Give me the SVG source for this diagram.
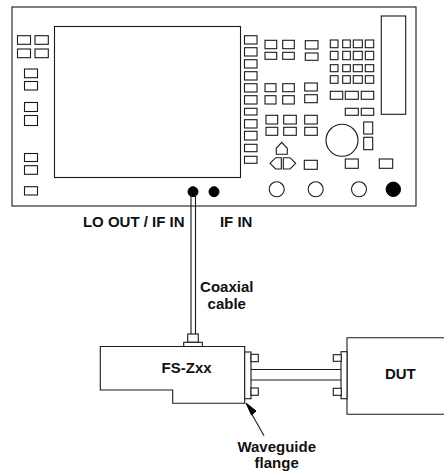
<svg xmlns="http://www.w3.org/2000/svg" width="444" height="471" viewBox="0 0 444 471">
<style>
.s{fill:#fff;stroke:#1a1a1a;stroke-width:1.1}
.l{fill:none;stroke:#1a1a1a;stroke-width:1.1}
.k{fill:#000;stroke:#000;stroke-width:1}
text{font-family:"Liberation Sans",Arial,sans-serif;font-weight:bold;font-size:15px;fill:#111;text-anchor:middle}
</style>
<rect width="444" height="471" fill="#fff"/>
<g id="analyzer">
<rect class="s" x="12" y="7" width="404" height="199" stroke-width="1.3"/>
<rect class="s" x="54.5" y="26.5" width="186" height="151"/>
<g id="left-keys">
<rect class="s" x="17.5" y="35.7" width="13" height="8.6"/><rect class="s" x="35" y="35.7" width="13.3" height="8.6"/>
<rect class="s" x="17.5" y="49" width="13" height="8.7"/><rect class="s" x="35" y="49" width="13.3" height="8.7"/>
<rect class="s" x="24.5" y="69" width="13" height="8.7"/><rect class="s" x="24.5" y="81.5" width="13" height="8.5"/>
<rect class="s" x="24.5" y="102.5" width="13" height="9"/><rect class="s" x="24.5" y="115.5" width="13" height="10"/>
<rect class="s" x="24.5" y="153.5" width="13" height="8"/><rect class="s" x="24.5" y="165.7" width="13" height="8.6"/>
<rect class="s" x="24.5" y="186.7" width="13" height="8.3"/>
</g>
<g id="softkeys">
<rect class="s" x="244.5" y="35.7" width="12.5" height="8.3"/><rect class="s" x="244.5" y="47.7" width="12.5" height="8.3"/>
<rect class="s" x="244.5" y="59.7" width="12.5" height="8.3"/><rect class="s" x="244.5" y="71.7" width="12.5" height="8.3"/>
<rect class="s" x="244.5" y="83.7" width="12.5" height="8.3"/><rect class="s" x="244.5" y="95.7" width="12.5" height="8.3"/>
<rect class="s" x="244.5" y="108.3" width="12.5" height="6.7"/><rect class="s" x="244.5" y="119.7" width="12.5" height="8.3"/>
<rect class="s" x="244.5" y="131.3" width="12.5" height="8.7"/><rect class="s" x="244.5" y="144.3" width="12.5" height="7.4"/>
<rect class="s" x="244.5" y="156.3" width="12.5" height="7"/>
</g>
<g id="middle-keys">
<rect class="s" x="265" y="40.3" width="11.7" height="8.4"/><rect class="s" x="282.7" y="40.3" width="11.6" height="8.4"/>
<rect class="s" x="265" y="52.3" width="11.7" height="7"/><rect class="s" x="282.7" y="52.3" width="11.6" height="7"/>
<rect class="s" x="305.3" y="40.7" width="12.7" height="8.3"/><rect class="s" x="305.3" y="53" width="12.7" height="7.3"/>
<rect class="s" x="265" y="83.7" width="11" height="8"/><rect class="s" x="282.7" y="83.7" width="11.6" height="8"/>
<rect class="s" x="265" y="95.7" width="11" height="8.3"/><rect class="s" x="282.7" y="95.7" width="11.6" height="8.3"/>
<rect class="s" x="304.7" y="83" width="12.6" height="8"/><rect class="s" x="304.7" y="94.7" width="12.6" height="8"/>
<rect class="s" x="266" y="115.3" width="11.7" height="8.7"/><rect class="s" x="283.7" y="115.3" width="12.6" height="8.7"/><rect class="s" x="304.7" y="115.3" width="12.6" height="8.7"/>
<rect class="s" x="266" y="127.3" width="11.7" height="8"/><rect class="s" x="283.7" y="127.3" width="12.6" height="8"/><rect class="s" x="304.7" y="127.3" width="12.6" height="8"/>
</g>
<g id="keypad">
<rect class="s" x="330.3" y="40" width="7.7" height="7.7"/><rect class="s" x="342.7" y="40" width="7.6" height="7.7"/><rect class="s" x="353.3" y="40" width="9" height="7.7"/><rect class="s" x="365.3" y="40" width="8.4" height="7.7"/>
<rect class="s" x="330.3" y="51.3" width="7.7" height="8.4"/><rect class="s" x="342.7" y="51.3" width="7.6" height="8.4"/><rect class="s" x="353.3" y="51.3" width="9" height="8.4"/><rect class="s" x="365.3" y="51.3" width="8.4" height="8.4"/>
<rect class="s" x="330.3" y="64.7" width="7.7" height="7"/><rect class="s" x="342.7" y="64.7" width="7.6" height="7"/><rect class="s" x="353.3" y="64.7" width="9" height="7"/><rect class="s" x="365.3" y="64.7" width="8.4" height="7"/>
<rect class="s" x="330.3" y="75.7" width="7.7" height="7.6"/><rect class="s" x="342.7" y="75.7" width="7.6" height="7.6"/><rect class="s" x="353.3" y="75.7" width="9" height="7.6"/><rect class="s" x="365.3" y="75.7" width="8.4" height="7.6"/>
<rect class="s" x="330.3" y="91.3" width="12.4" height="8"/><rect class="s" x="345.3" y="91.3" width="13" height="8"/><rect class="s" x="361.3" y="91.3" width="12.4" height="8"/>
<rect class="s" x="345.3" y="108.3" width="13" height="7"/><rect class="s" x="361.3" y="108.3" width="12.4" height="7"/>
</g>
<rect class="s" x="381.3" y="16" width="24.4" height="98.3"/>
<circle class="s" cx="342" cy="140.3" r="16"/>
<rect class="s" x="363.7" y="122" width="9" height="12"/><rect class="s" x="363.7" y="137.3" width="9" height="12.4"/>
<rect class="s" x="345.3" y="159" width="13" height="9.3"/><rect class="s" x="379.3" y="159" width="13.4" height="9.3"/>
<rect class="s" x="304.3" y="160.3" width="13" height="9"/>
<polygon class="s" points="281.7,142.3 287.3,148.3 287.3,154.3 276.3,154.3 276.3,148.3"/>
<polygon class="s" points="270,163.3 275.7,157.7 281.3,157.7 281.3,169 275.7,169"/>
<polygon class="s" points="283.3,157.7 290,157.7 295.7,163.3 290,169 283.3,169"/>
<circle class="s" cx="276.7" cy="189.3" r="7.5"/><circle class="s" cx="315.7" cy="189.3" r="7.5"/><circle class="s" cx="359" cy="189.3" r="7.5"/>
<circle class="k" cx="393.3" cy="189.3" r="7.2"/>
<circle class="k" cx="193" cy="191.7" r="5"/><circle class="k" cx="214" cy="191.7" r="5"/>
</g>
<g id="connectors">
<path class="l" d="M191 194V334M195.5 194V334" stroke-width="1.3"/>
<path class="l" d="M251 369.5H341M251 380H341"/>
<path class="l" d="M264 435.7L250 411"/>
<polygon class="k" points="246,403 251.5,415 256,411"/>
</g>
<g id="fs-zxx">
<rect class="s" x="187.7" y="334" width="10.6" height="8.3"/>
<rect class="s" x="183.7" y="342.3" width="18.6" height="4.4"/>
<path class="s" d="M100.3 346.5H244.7V403.3H172.7V390H100.3Z"/>
<rect class="s" x="244.7" y="352" width="6.3" height="46.7"/>
<rect class="s" x="251" y="354.3" width="7.3" height="7.4"/>
<rect class="s" x="251" y="388" width="7.3" height="7.3"/>
<text x="186.6" y="372.7">FS-Zxx</text>
</g>
<g id="dut">
<path class="l" d="M444 337.7H347V414.3H444"/>
<rect class="s" x="341" y="351.7" width="6" height="47"/>
<rect class="s" x="333.3" y="354.7" width="8" height="6.6"/>
<rect class="s" x="333.3" y="388.3" width="8" height="7"/>
<text x="400.3" y="379">DUT</text>
</g>
<g id="labels">
<text x="133.8" y="226.7">LO OUT / IF IN</text>
<text x="236.2" y="226.7">IF IN</text>
<text x="226.8" y="292.3">Coaxial</text>
<text x="226.8" y="309">cable</text>
<text x="276.7" y="451.7">Waveguide</text>
<text x="276.7" y="468">flange</text>
</g>
</svg>
